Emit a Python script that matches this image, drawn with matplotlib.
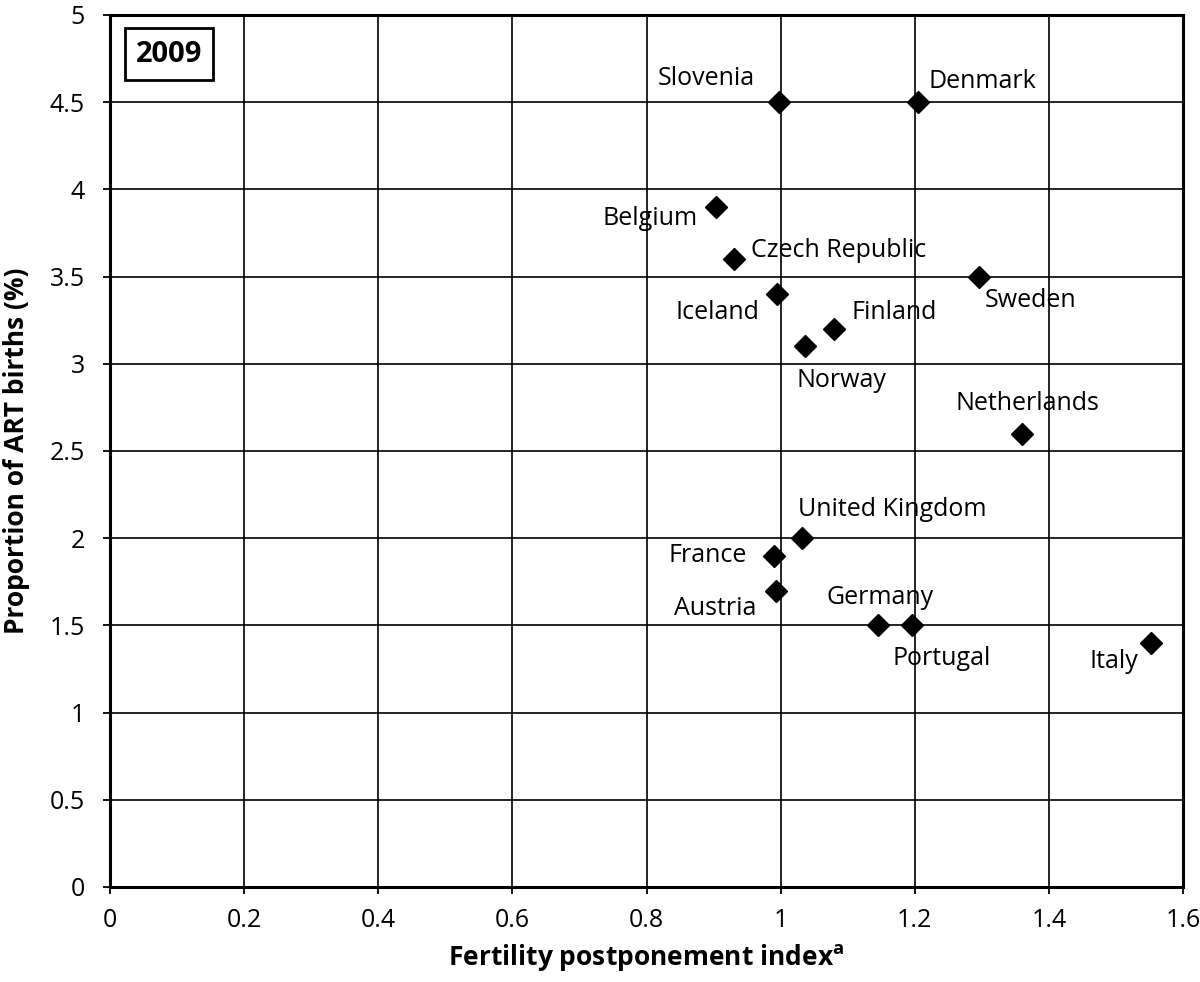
import matplotlib
matplotlib.use("Agg")
import matplotlib.pyplot as plt

countries = ["Slovenia", "Denmark", "Belgium", "Czech Republic", "Iceland", "Finland",
             "Norway", "Sweden", "Netherlands", "United Kingdom", "France", "Austria",
             "Germany", "Portugal", "Italy"]
fpi = [0.997, 1.205, 0.904, 0.931, 0.995, 1.079, 1.037, 1.296, 1.360, 1.032, 0.990,
       0.993, 1.145, 1.196, 1.552]
art = [4.5, 4.5, 3.9, 3.6, 3.4, 3.2, 3.1, 3.5, 2.6, 2.0, 1.9, 1.7, 1.5, 1.5, 1.4]

# label offsets in pixels (dx right, dy up) from marker to text centre
offsets = {
    "Slovenia": (-72, 24), "Denmark": (64, 21), "Belgium": (-66, -12),
    "Czech Republic": (104, 9), "Iceland": (-60, -18), "Finland": (61, 16),
    "Norway": (36, -34), "Sweden": (51, -24), "Netherlands": (5, 30),
    "United Kingdom": (90, 29), "France": (-66, 0), "Austria": (-61, -18),
    "Germany": (2, 28), "Portugal": (30, -33), "Italy": (-37, -19),
}

xticks = [0, 0.2, 0.4, 0.6, 0.8, 1, 1.2, 1.4, 1.6]
xticklabels = ["0", "0.2", "0.4", "0.6", "0.8", "1", "1.2", "1.4", "1.6"]
yticks = [0, 0.5, 1, 1.5, 2, 2.5, 3, 3.5, 4, 4.5, 5]
yticklabels = ["0", "0.5", "1", "1.5", "2", "2.5", "3", "3.5", "4", "4.5", "5"]

plt.rcParams['font.family'] = ['Open Sans', 'DejaVu Sans']
plt.rcParams['mathtext.fontset'] = 'custom'
plt.rcParams['mathtext.rm'] = 'Open Sans'
plt.rcParams['mathtext.bf'] = 'Open Sans:bold'

W, H = 1200, 982
fig = plt.figure(figsize=(W / 100, H / 100), dpi=100)
L, R, T, B = 110, 1183, 15, 887
ax = fig.add_axes([L / W, 1 - B / H, (R - L) / W, (B - T) / H])

ax.set_xlim(0, 1.6)
ax.set_ylim(0, 5)
ax.set_xticks(xticks)
ax.set_xticklabels(xticklabels)
ax.set_yticks(yticks)
ax.set_yticklabels(yticklabels)
ax.grid(True, color='black', linewidth=1.2)
ax.set_axisbelow(True)
for s in ax.spines.values():
    s.set_linewidth(2.2)
    s.set_color('black')
ax.tick_params(axis='both', direction='out', length=5, width=1.3, labelsize=18)
ax.tick_params(axis='y', pad=13)
ax.tick_params(axis='x', pad=10)

ax.plot(fpi, art, linestyle='none', marker='D', markersize=11, color='black', zorder=3,
        clip_on=False)

px = 0.72
for c, x, y in zip(countries, fpi, art):
    dx, dy = offsets[c]
    ax.annotate(c, (x, y), xytext=(dx * px, dy * px), textcoords='offset points',
                ha='center', va='center', fontsize=18, color='black')

ax.text((169 - L) / (R - L), (B - 54) / (B - T), "2009", transform=ax.transAxes,
        ha='center', va='center', fontsize=21, fontweight='bold',
        bbox=dict(boxstyle='square,pad=0.38', facecolor='white', edgecolor='black', linewidth=2))

ax.set_xlabel(r"Fertility postponement index$^{\mathbf{a}}$", fontsize=19, fontweight='bold')
ax.set_ylabel("Proportion of ART births (%)", fontsize=19, fontweight='bold')
ax.xaxis.set_label_coords(0.5, (B - 942) / (B - T))
ax.yaxis.set_label_coords((30 - L) / (R - L), 0.5)

fig.savefig("out.png", dpi=100)
